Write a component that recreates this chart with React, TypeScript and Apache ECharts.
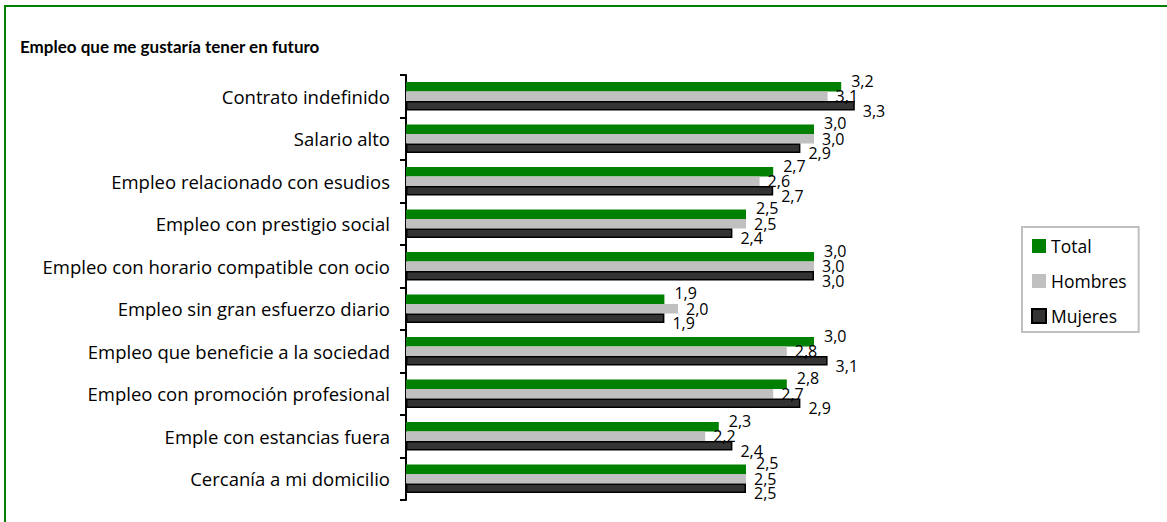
import React, { useEffect, useRef } from "react";
import * as echarts from "echarts";

const categories = [
  "Contrato indefinido",
  "Salario alto",
  "Empleo relacionado con esudios",
  "Empleo con prestigio social",
  "Empleo con horario compatible con ocio",
  "Empleo sin gran esfuerzo diario",
  "Empleo que beneficie a la sociedad",
  "Empleo con promoción profesional",
  "Emple con estancias fuera",
  "Cercanía a mi domicilio",
];
const total = [3.2, 3.0, 2.7, 2.5, 3.0, 1.9, 3.0, 2.8, 2.3, 2.5];
const hombres = [3.1, 3.0, 2.6, 2.5, 3.0, 2.0, 2.8, 2.7, 2.2, 2.5];
const mujeres = [3.3, 2.9, 2.7, 2.4, 3.0, 1.9, 3.1, 2.9, 2.4, 2.5];

const FONT = "Open Sans";
const fmt = (p: any) => Number(p.value).toFixed(1).replace(".", ",");

export default function App() {
  const ref = useRef<HTMLDivElement>(null);
  useEffect(() => {
    const chart = echarts.init(ref.current!, null, { renderer: "svg" });
    const label = (offset: number[]) => ({
      show: true,
      position: "right" as const,
      distance: 0,
      offset,
      formatter: fmt,
      color: "#000",
      fontFamily: FONT,
      fontSize: 16,
    });
    chart.setOption({
      animation: false,
      textStyle: { fontFamily: FONT },
      title: {
        text: "Empleo que me gustaría tener en futuro",
        left: 15,
        top: 33,
        textStyle: { fontFamily: "Lato", fontWeight: "bold", fontSize: 17, color: "#000" },
      },
      graphic: [
        {
          type: "line",
          shape: { x1: 4, y1: 6, x2: 1167, y2: 6 },
          style: { stroke: "#008000", lineWidth: 2 },
          silent: true,
        },
        {
          type: "line",
          shape: { x1: 5, y1: 5, x2: 5, y2: 522 },
          style: { stroke: "#008000", lineWidth: 2 },
          silent: true,
        },
      ],
      legend: {
        orient: "vertical",
        left: 1022,
        top: 227,
        itemWidth: 14,
        itemHeight: 14,
        itemGap: 17,
        padding: [10, 12, 7, 9],
        borderColor: "#c0c0c0",
        borderWidth: 2,
        textStyle: { fontFamily: FONT, fontSize: 17.5, lineHeight: 18, color: "#000", padding: [0, 0, 0, 0] },
        data: [
          { name: "Total", icon: "rect" },
          { name: "Hombres", icon: "rect" },
          { name: "Mujeres", icon: "rect" },
        ],
      },
      grid: { left: 406, top: 75, right: 217, bottom: 22, containLabel: false },
      xAxis: {
        type: "value",
        min: 0,
        max: 4,
        show: false,
        splitLine: { show: false },
      },
      yAxis: {
        type: "category",
        inverse: true,
        data: categories,
        axisLine: { show: true, lineStyle: { color: "#000", width: 2 } },
        axisTick: { show: true, length: 6, lineStyle: { color: "#000", width: 2 } },
        axisLabel: { color: "#000", fontFamily: FONT, fontSize: 18.5, margin: 16 },
      },
      series: [
        {
          name: "Total",
          type: "bar",
          data: total,
          barGap: "0%",
          barCategoryGap: "33%",
          itemStyle: { color: "#008000" },
          label: label([10, -6]),
        },
        {
          name: "Hombres",
          type: "bar",
          data: hombres,
          itemStyle: { color: "#c0c0c0" },
          label: label([8, 0]),
        },
        {
          name: "Mujeres",
          type: "bar",
          data: mujeres,
          itemStyle: { color: "#333333", borderColor: "#000", borderWidth: 1.5 },
          label: label([8, 5]),
        },
      ],
    });
    return () => chart.dispose();
  }, []);
  return (
    <div
      ref={ref}
      style={{ position: "absolute", left: 0, top: 0, width: 1167, height: 522, background: "#fff" }}
    />
  );
}
